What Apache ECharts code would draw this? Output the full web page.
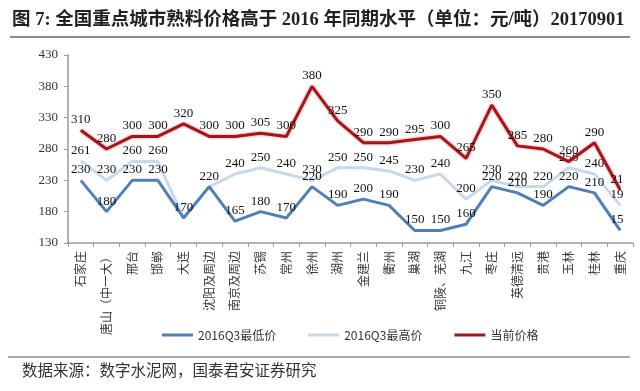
<!DOCTYPE html>
<html>
<head>
<meta charset="utf-8">
<script src="https://cdn.jsdelivr.net/npm/echarts@6/dist/echarts.min.js"></script>
<style>
html,body{margin:0;padding:0;background:#fff;}
#c{width:640px;height:391px;}
</style>
</head>
<body>
<div id="c"></div>
<script>
const categories = ['石家庄','唐山（中一大）','邢台','邯郸','大连','沈阳及周边','南京及周边','苏锡','常州','徐州','湖州','金建兰','衢州','巢湖','铜陵、芜湖','九江','枣庄','英德清远','贵港','玉林','桂林','重庆'];
const low2016Q3  = [230,180,230,230,170,220,165,180,170,220,190,200,190,150,150,160,220,210,190,220,210,150];
const high2016Q3 = [261,230,260,260,170,220,240,250,240,230,250,250,245,230,240,200,230,220,220,250,240,190];
const current    = [310,280,300,300,320,300,300,305,300,380,325,290,290,295,300,265,350,285,280,260,290,215];
const seriesNames = ['2016Q3最低价','2016Q3最高价','当前价格'];
const yTicks = {min:130, max:430, interval:50};

const chart = echarts.init(document.getElementById('c'));
const serif = "'Liberation Serif','Times New Roman','Noto Sans CJK SC',serif";
const cjk = "'Noto Sans CJK SC',sans-serif";
const lbl = {show:true, position:'top', distance:3, color:'#111', fontFamily:serif, fontSize:13};
function lineSeries(name, data, color, z, extra){
  return Object.assign({
    name:name, type:'line', data:data, color:color,
    symbol:'circle', symbolSize:2, showSymbol:true,
    itemStyle:{color:'rgba(0,0,0,0)', borderWidth:0},
    lineStyle:{width:3, color:color},
    label:lbl, labelLayout:{hideOverlap:false}, z:z,
    emphasis:{disabled:true}
  }, extra||{});
}
chart.setOption({
  animation:false,
  title:{
    text:'图 7: 全国重点城市熟料价格高于 2016 年同期水平（单位：元/吨）20170901',
    left:7, top:6,
    textStyle:{fontFamily:"'Liberation Serif','Noto Sans CJK SC',serif", fontWeight:'bold', fontSize:18.5, color:'#222'}
  },
  graphic:[
    {type:'line', shape:{x1:10,y1:37,x2:630,y2:37}, style:{stroke:'#8a8a8a', lineWidth:2}},
    {type:'line', shape:{x1:8,y1:357,x2:630,y2:357}, style:{stroke:'#555', lineWidth:1}},
    {type:'text', left:22, top:362, style:{text:'数据来源：数字水泥网，国泰君安证券研究', font:"15.5px 'Noto Sans CJK SC'", fill:'#333'}},
    {type:'rect', z:100, shape:{x:624,y:100,width:20,height:140}, style:{fill:'#fff'}}
  ],
  legend:{
    left:157, top:324, itemWidth:31, itemHeight:3, itemGap:32, icon:'rect',
    textStyle:{fontFamily:cjk, fontSize:12, color:'#333'},
    data:[
      {name:seriesNames[0], itemStyle:{color:'#4f7fb9'}},
      {name:seriesNames[1], itemStyle:{color:'#c9d8ea'}},
      {name:seriesNames[2], itemStyle:{color:'#a3161c'}}
    ]
  },
  grid:{left:68, right:7, top:55, bottom:148},
  xAxis:{
    type:'category', data:categories, boundaryGap:true,
    axisLine:{lineStyle:{color:'#999', width:1.5}},
    axisTick:{show:true, length:4, lineStyle:{color:'#999'}},
    axisLabel:{rotate:90, margin:8, fontFamily:cjk, fontSize:12, color:'#3a3a3a', interval:0}
  },
  yAxis:{
    type:'value', min:yTicks.min, max:yTicks.max, interval:yTicks.interval,
    splitLine:{show:false},
    axisLine:{show:true, lineStyle:{color:'#999', width:1.5}},
    axisTick:{show:true, length:4, lineStyle:{color:'#999'}},
    axisLabel:{margin:10, fontFamily:serif, fontSize:13, color:'#333'}
  },
  series:[
    lineSeries(seriesNames[0], low2016Q3, '#4f7fb9', 3),
    lineSeries(seriesNames[1], high2016Q3, '#c9d8ea', 2, {
      label:Object.assign({}, lbl, {formatter:p => (high2016Q3[p.dataIndex] === low2016Q3[p.dataIndex] ? '' : String(p.value))})
    }),
    lineSeries(seriesNames[2], current, '#a3161c', 4, {lineStyle:{width:3, color:'#a3161c', shadowBlur:3, shadowColor:'rgba(230,60,60,0.6)'}})
  ]
});
</script>
</body>
</html>
